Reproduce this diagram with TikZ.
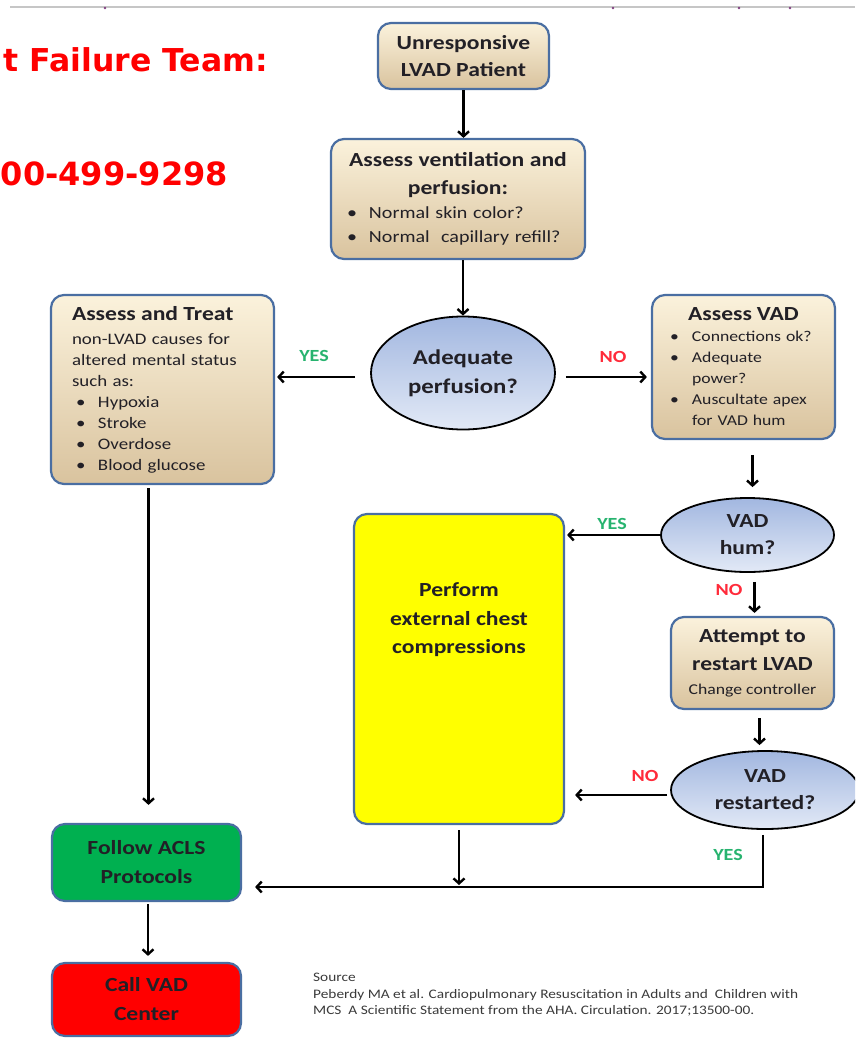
\documentclass[tikz,border=0pt]{standalone}
\usepackage{fontspec}
\setmainfont{Carlito}[FakeStretch=1.18]
\newfontfamily\headfont{DejaVu Sans}
\usetikzlibrary{shapes.geometric,arrows.meta}

\definecolor{boxblue}{HTML}{4A6EA2}
\definecolor{tanlight}{HTML}{FBF2DC}
\definecolor{tandark}{HTML}{D9C39E}
\definecolor{ovaltop}{HTML}{A2B7E0}
\definecolor{ovalbot}{HTML}{E2E9F6}
\definecolor{inkdark}{HTML}{222026}
\definecolor{yesgreen}{HTML}{27B36F}
\definecolor{nored}{HTML}{FF2B3A}
\definecolor{cpryellow}{HTML}{FFFF00}
\definecolor{acgreen}{HTML}{00B050}
\definecolor{callred}{HTML}{FF0000}
\definecolor{srcgray}{HTML}{3A3A3A}

\newcommand{\blt}{\makebox[26pt][l]{\hspace{4pt}\textbullet}}
\newcommand{\bind}{\hspace*{26pt}}

\begin{document}
\begin{tikzpicture}[x=1pt,y=-1pt,>={Straight Barb[length=5pt,width=11pt]},
  box/.style={draw=boxblue,line width=2.2pt,rounded corners=13pt,top color=tanlight,bottom color=tandark,inner sep=0pt,align=center,text=inkdark},
  oval/.style={ellipse,draw=black,line width=1.8pt,top color=ovaltop,bottom color=ovalbot,inner sep=0pt,align=center,text=inkdark,font=\bfseries\fontsize{20}{27}\selectfont},
  flatbox/.style={draw=boxblue,line width=2.2pt,rounded corners=13pt,inner sep=0pt,align=center,text=inkdark,font=\bfseries\fontsize{20}{29}\selectfont},
  flow/.style={->,line width=2.4pt},
  yes/.style={text=yesgreen,font=\bfseries\fontsize{17}{19}\selectfont},
  no/.style={text=nored,font=\bfseries\fontsize{17}{19}\selectfont},
  header/.style={anchor=base east,inner sep=0pt,text=red,font=\headfont\bfseries\fontsize{31.5}{38}\selectfont}]

\useasboundingbox (0,0) rectangle (855,1041);
\clip (0,0) rectangle (855,1041);

% page header
\draw[gray!45,line width=1.2pt] (10,7) -- (855,7);
\foreach \x in {105,613,739,790}
  \fill[violet!50!gray] (\x,8) circle (1.3pt);
\node[header] (team) at (268,71) {t Failure Team:};
\node[header,font=\headfont\bfseries\fontsize{32}{38}\selectfont] (phone) at (228,185) {00-499-9298};

% middle column
\node[box,minimum width=171pt,minimum height=66pt,font=\bfseries\fontsize{20}{27}\selectfont] (start) at (463.5,56) {Unresponsive\\LVAD Patient};
\node[box,minimum width=254pt,minimum height=120pt,text width=230pt,align=left,font=\fontsize{17}{24}\selectfont] (vent) at (458,199)
  {{\centering\bfseries\fontsize{20}{28}\selectfont Assess ventilation and\\perfusion:\par}
   \blt Normal skin color?\\\blt Normal\ \ capillary refill?};
\node[oval,minimum width=184pt,minimum height=113pt,font=\bfseries\fontsize{21}{29}\selectfont] (adeq) at (463,373) {Adequate\\perfusion?};

% left column
\node[box,minimum width=223pt,minimum height=189pt,text width=181pt,align=left,font=\fontsize{16}{21}\selectfont] (treat) at (162.5,389.5)
  {{\bfseries\fontsize{20}{24}\selectfont Assess and Treat}\\[3pt]
   non-LVAD causes for\\altered mental status\\such as:\\\blt Hypoxia\\\blt Stroke\\\blt Overdose\\\blt Blood glucose};
\node[flatbox,fill=acgreen,minimum width=189pt,minimum height=77pt] (follow) at (146.5,862.5) {Follow ACLS\\Protocols};
\node[flatbox,fill=callred,minimum width=189pt,minimum height=73pt] (call) at (146.5,999.5) {Call VAD\\Center};

% right column
\node[box,minimum width=183pt,minimum height=144pt,text width=155pt,align=left,font=\fontsize{15}{21}\selectfont] (vad) at (743.5,367)
  {{\centering\bfseries\fontsize{20}{24}\selectfont Assess VAD\par}
   \blt Connections ok?\\\blt Adequate\\\bind power?\\\blt Auscultate apex\\\bind for VAD hum};
\node[oval,minimum width=173pt,minimum height=74pt] (hum) at (747.5,535) {VAD\\hum?};
\node[box,minimum width=163pt,minimum height=92pt,font=\bfseries\fontsize{20}{28}\selectfont] (restart) at (752.5,663)
  {Attempt to\\restart LVAD\\[-4pt]{\mdseries\fontsize{15}{17}\selectfont Change controller}};
\node[oval,minimum width=188pt,minimum height=78pt] (restarted) at (765,790) {VAD\\restarted?};

% compressions
\node[flatbox,fill=cpryellow,minimum width=210pt,minimum height=310pt] (cpr) at (459,669) {};
\node[font=\bfseries\fontsize{20}{28.5}\selectfont,align=center,text=inkdark] (cprtext) at (459,620) {Perform\\external chest\\compressions};

% source
\node[anchor=north west,align=left,inner sep=0pt,text=srcgray,font=\fontsize{13}{16.5}\selectfont] (src) at (313,973)
  {Source\\Peberdy MA et al. Cardiopulmonary Resuscitation in Adults and\ \ Children with\\MCS\ \ A Scientific Statement from the AHA. Circulation. 2017;13500-00.};

% arrows
\coordinate (join) at (763,887);
\draw[flow] (start.south) -- (start.south |- vent.north);
\draw[flow] (adeq.north |- vent.south) -- (adeq.north);
\draw[flow,shorten <=15pt,shorten >=2pt] ([yshift=-4pt]adeq.west) -- ([yshift=-4pt]treat.east |- adeq.west);
\draw[flow,shorten <=10pt,shorten >=4pt] ([yshift=-4pt]adeq.east) -- ([yshift=-4pt]vad.west |- adeq.east);
\draw[flow,shorten <=15pt,shorten >=10pt] ([xshift=5pt]hum.north |- vad.south) -- ([xshift=5pt]hum.north);
\draw[flow,shorten >=2pt] (hum.west) -- (cpr.east |- hum.west);
\draw[flow,shorten <=9pt,shorten >=3pt] ([xshift=7pt]hum.south) -- ([xshift=7pt]hum.south |- restart.north);
\draw[flow,shorten <=8pt,shorten >=5pt] ([xshift=7pt]restart.south) -- ([xshift=7pt]restart.south |- restarted.north);
\draw[flow,shorten <=3pt,shorten >=10pt] ([yshift=-5pt]restarted.west) -- ([yshift=-5pt]cpr.east |- restarted.west);
\draw[flow,shorten <=5pt,shorten >=13pt] ([xshift=-2pt]restarted.south) -- ([xshift=-2pt]restarted.south |- join) -- (follow.east |- join);
\draw[flow,shorten <=5pt,shorten >=2pt] (cpr.south) -- (cpr.south |- join);
\draw[flow,shorten <=3pt,shorten >=18pt] ([xshift=-14pt]treat.south) -- ([xshift=-14pt]treat.south |- follow.north);
\draw[flow,shorten <=2pt,shorten >=6pt] ([xshift=1.5pt]follow.south) -- ([xshift=1.5pt]call.north);

% branch labels
\foreach \x/\y/\kind/\word [count=\i] in {314/356/yes/YES,613/357/no/NO,612/524/yes/YES,729/590/no/NO,645/776/no/NO,728/855/yes/YES}
  \node[\kind] (lab\i) at (\x,\y) {\word};
\end{tikzpicture}
\end{document}
